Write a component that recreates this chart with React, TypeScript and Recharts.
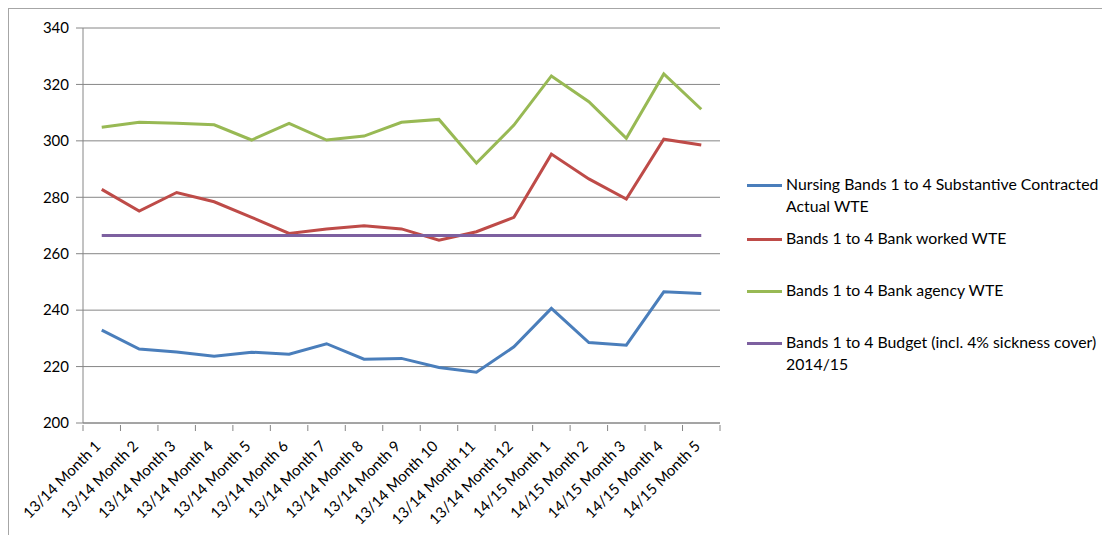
import { LineChart, Line, XAxis, YAxis, CartesianGrid } from 'recharts';

const months = [
  '13/14 Month 1', '13/14 Month 2', '13/14 Month 3', '13/14 Month 4', '13/14 Month 5',
  '13/14 Month 6', '13/14 Month 7', '13/14 Month 8', '13/14 Month 9', '13/14 Month 10',
  '13/14 Month 11', '13/14 Month 12', '14/15 Month 1', '14/15 Month 2', '14/15 Month 3',
  '14/15 Month 4', '14/15 Month 5',
];

const substantive = [232.9, 226.2, 225.2, 223.7, 225.1, 224.4, 228.1, 222.6, 222.9, 219.7, 218.0, 227.0, 240.6, 228.5, 227.6, 246.5, 245.9];
const bankWorked = [282.8, 275.1, 281.7, 278.4, 272.9, 267.2, 268.8, 269.9, 268.8, 264.8, 267.8, 272.9, 295.3, 286.5, 279.4, 300.6, 298.5];
const bankAgency = [304.8, 306.6, 306.2, 305.7, 300.3, 306.2, 300.3, 301.7, 306.6, 307.6, 292.1, 305.6, 323.0, 313.9, 300.9, 323.7, 311.2];
const budget = [266.5, 266.5, 266.5, 266.5, 266.5, 266.5, 266.5, 266.5, 266.5, 266.5, 266.5, 266.5, 266.5, 266.5, 266.5, 266.5, 266.5];

const yTicks = [200, 220, 240, 260, 280, 300, 320, 340];

const series = [
  { key: 'substantive', name: 'Nursing Bands 1 to 4 Substantive Contracted Actual WTE', color: '#4a7ebb' },
  { key: 'bankWorked', name: 'Bands 1 to 4 Bank worked WTE', color: '#be4b48' },
  { key: 'bankAgency', name: 'Bands 1 to 4 Bank agency WTE', color: '#98b954' },
  { key: 'budget', name: 'Bands 1 to 4 Budget (incl. 4% sickness cover) 2014/15', color: '#7d60a0' },
];

const data = months.map((m, i) => ({
  month: m,
  substantive: substantive[i],
  bankWorked: bankWorked[i],
  bankAgency: bankAgency[i],
  budget: budget[i],
}));

const W = 1101;
const H = 526;
const margin = { top: 19, right: 390, bottom: 0, left: 0 };
const yAxisWidth = 74;
const plotWidth = W - margin.right - yAxisWidth;
const halfBand = plotWidth / months.length / 2;
const font = 'Lato, "Open Sans", sans-serif';
const axisGray = '#868686';

const XTick = (props: any) => {
  const { x, y, payload, index } = props;
  return (
    <g transform={`translate(${x},${y})`}>
      <line x1={-halfBand} y1={0} x2={-halfBand} y2={6} stroke={axisGray} />
      {index === months.length - 1 && (
        <line x1={halfBand} y1={0} x2={halfBand} y2={6} stroke={axisGray} />
      )}
      <text
        transform="translate(0,22) rotate(-45)"
        textAnchor="end"
        fill="#000"
        fontSize={15}
        fontFamily={font}
      >
        {payload.value}
      </text>
    </g>
  );
};

const legendOffsets = [0, 10, 30, 30];

const LegendBox = () => (
  <div
    style={{
      position: 'absolute',
      left: 738,
      top: 164,
      width: 372,
      fontFamily: font,
      fontSize: 15.8,
      color: '#000',
      lineHeight: '22px',
    }}
  >
    {series.map((s, i) => (
      <div key={s.key} style={{ display: 'flex', alignItems: 'flex-start', marginTop: legendOffsets[i] }}>
        <div style={{ width: 35, height: 3, background: s.color, marginTop: 11, marginRight: 4, flex: 'none' }} />
        <div>{s.name}</div>
      </div>
    ))}
  </div>
);

export default function App() {
  return (
    <div
      style={{
        position: 'relative',
        width: W + 1,
        height: H + 1,
        borderTop: '1px solid #a6a6a6',
        borderLeft: '1px solid #a6a6a6',
        background: '#fff',
      }}
    >
      <LineChart width={W} height={H} data={data} margin={margin}>
        <CartesianGrid vertical={false} stroke={axisGray} strokeWidth={1} />
        <XAxis
          dataKey="month"
          interval={0}
          height={112}
          tickSize={0}
          tickLine={false}
          padding={{ left: halfBand, right: halfBand }}
          stroke={axisGray}
          tick={<XTick />}
        />
        <YAxis
          width={yAxisWidth}
          domain={[200, 340]}
          ticks={yTicks}
          interval={0}
          tickSize={7}
          tickMargin={7}
          stroke={axisGray}
          tick={{ fill: '#000', fontSize: 15, fontFamily: font }}
        />
        {series.map((s) => (
          <Line
            key={s.key}
            type="linear"
            dataKey={s.key}
            name={s.name}
            stroke={s.color}
            strokeWidth={3}
            dot={false}
            isAnimationActive={false}
          />
        ))}
      </LineChart>
      <LegendBox />
    </div>
  );
}
